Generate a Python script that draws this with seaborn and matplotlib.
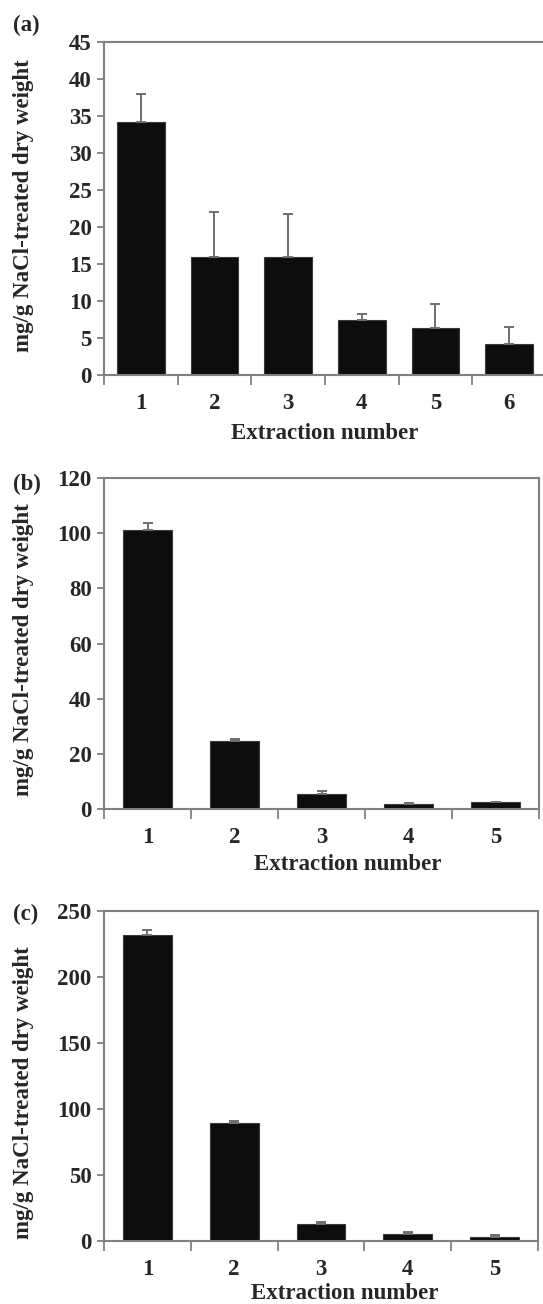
import numpy as np
import pandas as pd
import seaborn as sns
import matplotlib.pyplot as plt

sns.set_style("ticks")
plt.rcParams['font.family'] = ['Liberation Serif', 'DejaVu Serif']
plt.rcParams['font.weight'] = 'bold'

# panel (a)
extract_a = ["1", "2", "3", "4", "5", "6"]
mean_a = [34.2, 16.0, 15.9, 7.4, 6.35, 4.15]
err_a = [3.8, 6.0, 5.8, 0.9, 3.25, 2.35]

# panel (b)
extract_b = ["1", "2", "3", "4", "5"]
mean_b = [101.0, 24.7, 5.4, 1.9, 2.4]
err_b = [2.7, 0.7, 1.0, 0.4, 0.1]

# panel (c)
extract_c = ["1", "2", "3", "4", "5"]
mean_c = [232.1, 89.1, 12.6, 5.0, 3.0]
err_c = [3.8, 2.0, 2.0, 2.1, 1.5]

W, H = 543, 1304
fig = plt.figure(figsize=(W / 100, H / 100), dpi=100)

spine_col = "#808080"
fs = 16.5


def px_axes(left, right, top, bottom):
    return fig.add_axes([left / W, 1 - bottom / H, (right - left) / W, (bottom - top) / H])


def panel(ax, cats, means, errs, ymax, ystep, width, tag, xlab_x, xlab_y, ylab_y, show_right=True):
    df = pd.DataFrame({"extraction": cats, "value": means})
    sns.barplot(data=df, x="extraction", y="value", color="#0d0d0d", width=width,
                edgecolor="#3a3a3a", linewidth=0.8, errorbar=None, ax=ax, saturation=1)
    pos = np.arange(len(cats))
    ax.errorbar(pos, means, yerr=[np.zeros(len(errs)), errs], fmt="none",
                ecolor="#6e6e6e", elinewidth=1.4, capsize=3.5, capthick=1.4, zorder=3)
    ax.set_xlim(-0.5, len(cats) - 0.5)
    ax.set_ylim(0, ymax)
    ax.set_yticks(np.arange(0, ymax + 0.1, ystep))
    ax.set_xticks(pos)
    ax.set_xticks(np.arange(-0.5, len(cats) + 0.5, 1.0), minor=True)
    ax.tick_params(axis="x", which="major", length=0, pad=13, labelsize=fs)
    ax.tick_params(axis="x", which="minor", length=7, width=1.3, color=spine_col, direction="out")
    ax.tick_params(axis="y", length=5, width=1.3, color=spine_col, pad=4, labelsize=fs)
    for lab in ax.get_xticklabels() + ax.get_yticklabels():
        lab.set_fontweight("bold")
    for side in ["left", "bottom", "top", "right"]:
        ax.spines[side].set_color(spine_col)
        ax.spines[side].set_linewidth(1.5)
    ax.spines["right"].set_visible(show_right)
    ax.set_xlabel("Extraction number", fontsize=fs, fontweight="bold")
    ax.xaxis.set_label_coords(xlab_x, -xlab_y)
    ax.set_ylabel("mg/g NaCl-treated dry weight", fontsize=fs, fontweight="bold")
    ax.yaxis.set_label_coords(-70 / ax.bbox.width, ylab_y)
    ax.text(-91 / ax.bbox.width, 1.05, tag, transform=ax.transAxes, fontsize=fs,
            fontweight="bold", ha="left", va="center")


ax_a = px_axes(104, 546, 42, 375)
panel(ax_a, extract_a, mean_a, err_a, 45, 5, 0.65, "(a)", 0.5, 0.144, 0.51, show_right=False)

ax_b = px_axes(104, 539, 478, 809)
panel(ax_b, extract_b, mean_b, err_b, 120, 20, 0.56, "(b)", 0.56, 0.135, 0.48)
ax_b.texts[0].set_position((-91 / ax_b.bbox.width, 0.98))

ax_c = px_axes(104, 538, 911, 1241)
panel(ax_c, extract_c, mean_c, err_c, 250, 50, 0.56, "(c)", 0.555, 0.128, 0.45)
ax_c.texts[0].set_position((-91 / ax_c.bbox.width, 0.99))

fig.savefig("out.png", dpi=100)
